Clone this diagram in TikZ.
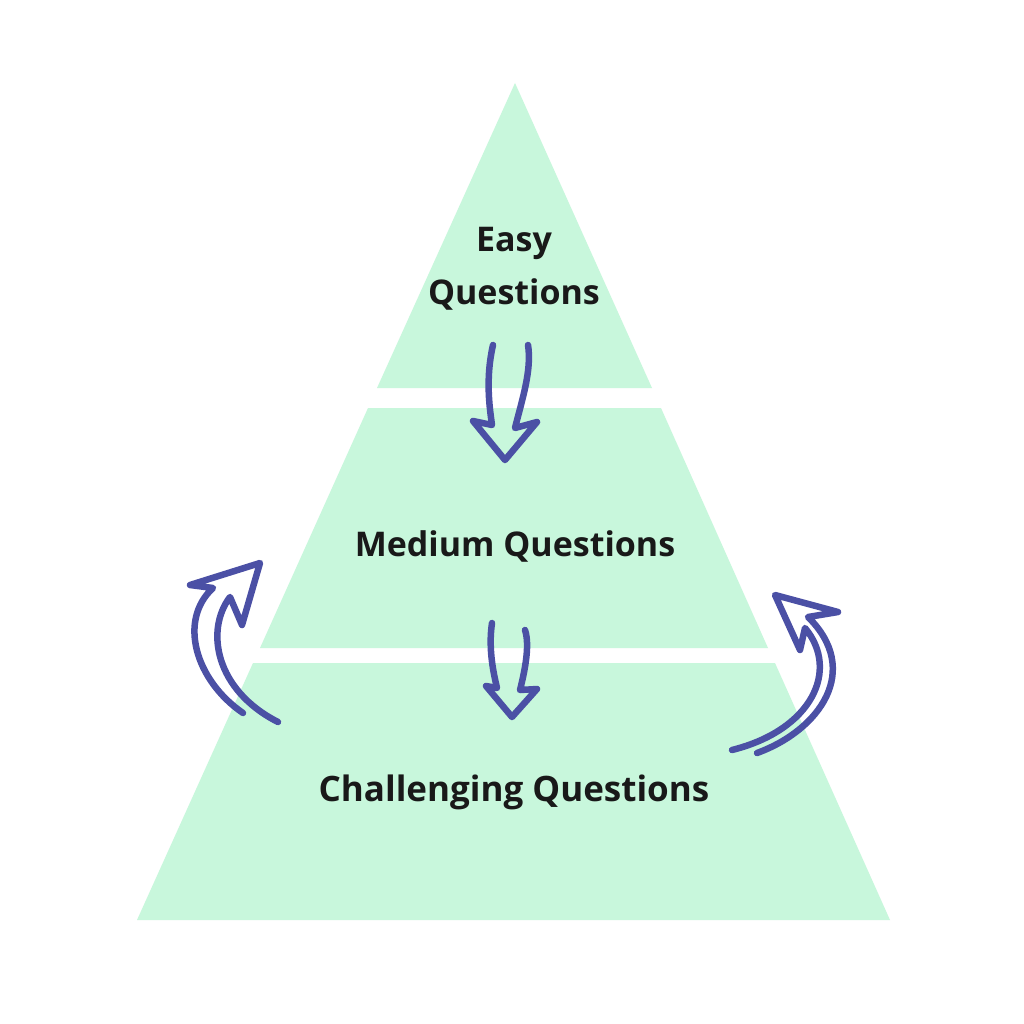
\documentclass[tikz,border=0pt]{standalone}
\usepackage{fontspec}
\setmainfont{Open Sans}
\definecolor{tier}{RGB}{200,247,220}
\definecolor{arr}{RGB}{75,80,165}
\begin{document}
\begin{tikzpicture}[x=1pt,y=-1pt,
  tierbox/.style={fill=tier,draw=none},
  outarrow/.style={draw=arr,line width=6.5pt,line join=round,line cap=round},
  lbl/.style={font=\fontsize{34}{40}\selectfont\bfseries,text=black!90,align=center,inner sep=0pt}]
\useasboundingbox[fill=white] (0,0) rectangle (1024,1024);
% tiers
\path[tierbox] (515,83) -- (652,388) -- (377,388) -- cycle;
\path[tierbox] (368,408) -- (661,408) -- (768,648) -- (260,648) -- cycle;
\path[tierbox] (253,663) -- (775,663) -- (890,920) -- (137,920) -- cycle;
% labels
\node[lbl] (easy) at (514,269) {Easy\\[13pt]Questions};
\node[lbl] (medium) at (515,546) {Medium Questions};
\node[lbl] (chall) at (514,792) {\fontsize{35}{40}\selectfont Challenging Questions};
% down arrows
\draw[outarrow] (493,345) .. controls (485,380) and (490,410) .. (492,425) -- (473,421) -- (505,460) -- (537,422) -- (515,428) .. controls (522,400) and (532,370) .. (528,345);
\draw[outarrow] (492,623) .. controls (488,650) and (494,675) .. (497,688) -- (486,686) -- (512,717) -- (537,689) -- (520,690) .. controls (525,670) and (530,645) .. (525,630);
% side arrows
\draw[outarrow] (243,713) .. controls (195,680) and (178,620) .. (213,588) -- (190,585) -- (260,563) -- (242,625) -- (230,597) .. controls (205,630) and (215,690) .. (278,722);
\draw[outarrow] (757,753) .. controls (820,730) and (862,670) .. (808,617) -- (838,612) -- (775,595) -- (800,650) -- (805,628) .. controls (840,670) and (812,730) .. (732,750);
\end{tikzpicture}
\end{document}
